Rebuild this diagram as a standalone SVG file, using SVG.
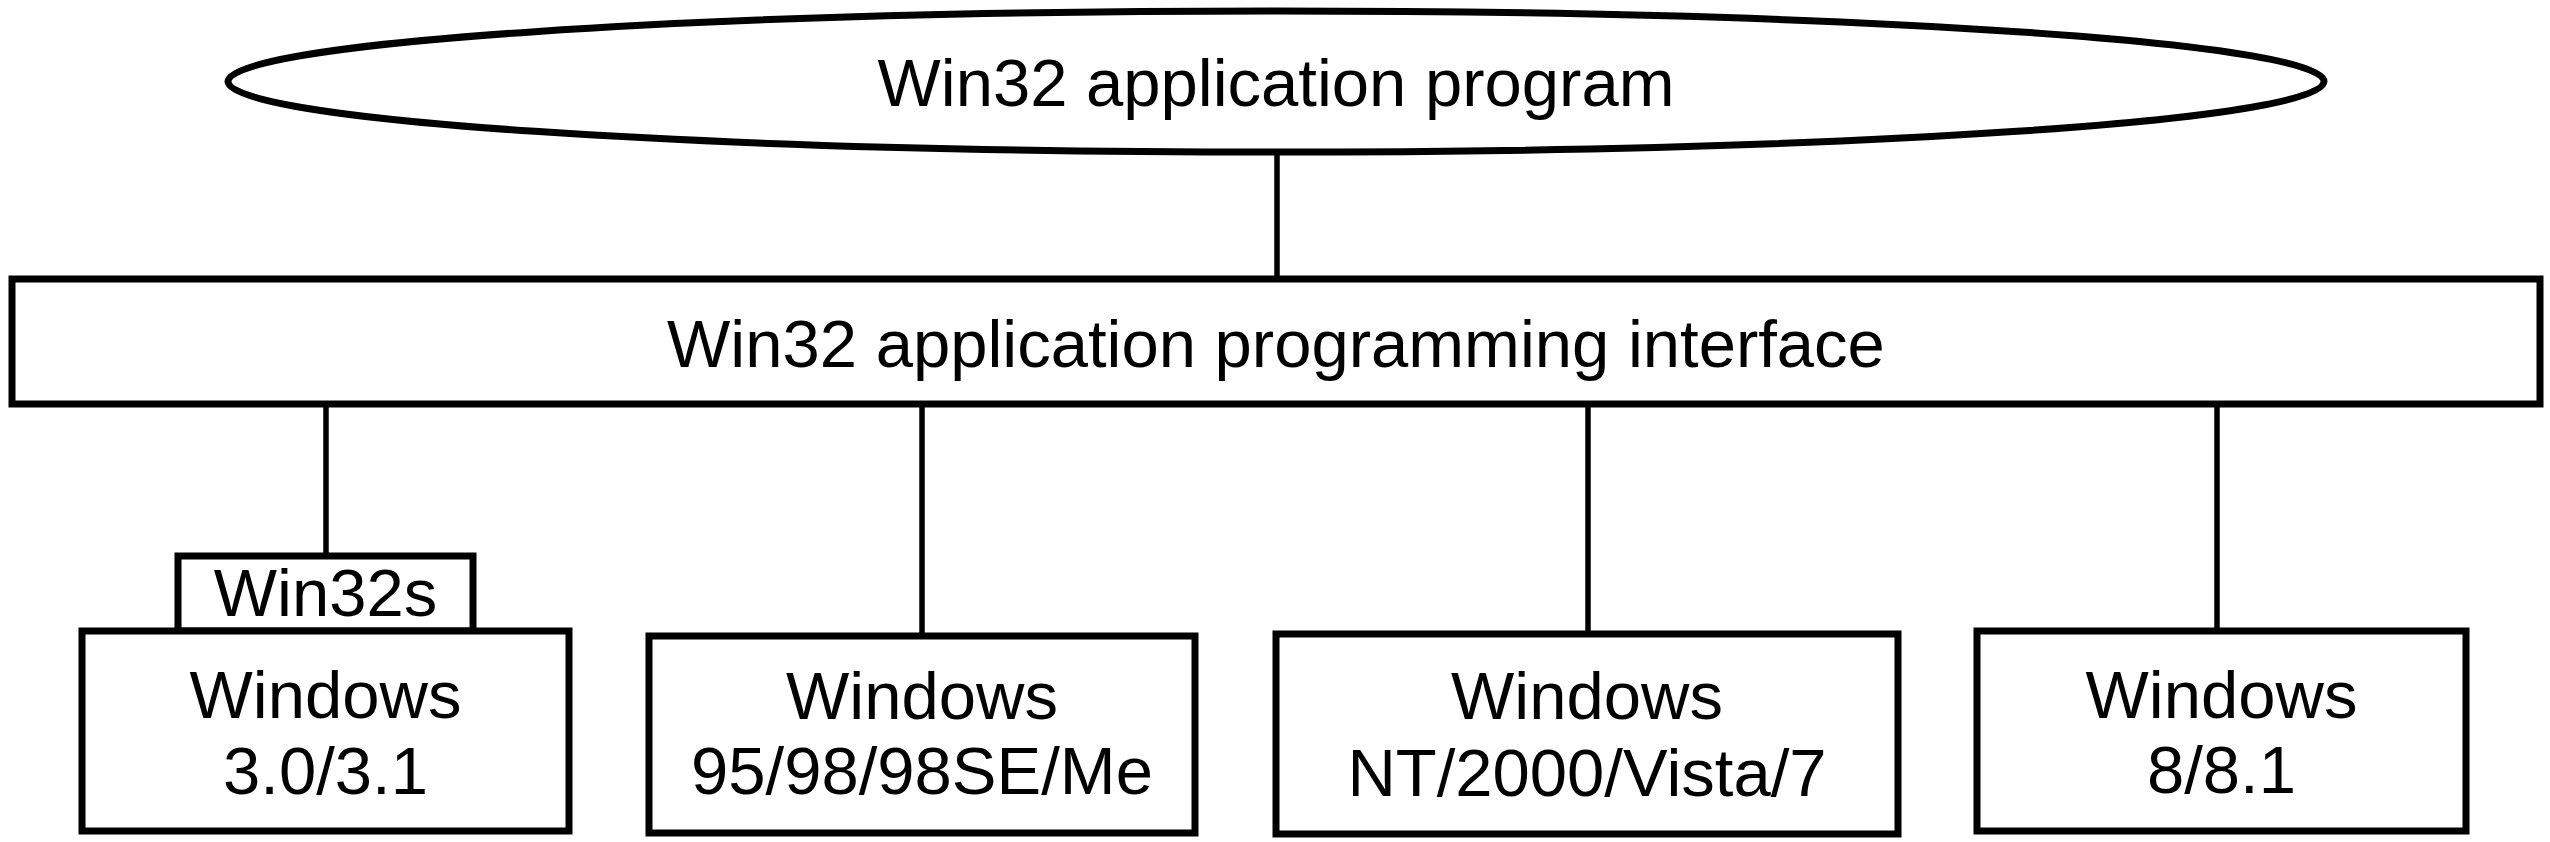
<svg xmlns="http://www.w3.org/2000/svg" width="2550" height="842" viewBox="0 0 2550 842">
<style>
.box{fill:#fff;stroke:#000;stroke-width:7}
.ln{stroke:#000;stroke-width:5.5;fill:none}
text{font-family:"Liberation Sans",Arial,Helvetica,sans-serif;font-size:67px;fill:#000;text-anchor:middle}
</style>
<rect width="2550" height="842" fill="#fff"/>
<g id="connectors">
<line class="ln" x1="1277" y1="152" x2="1277" y2="279"/>
<line class="ln" x1="326" y1="404" x2="326" y2="556"/>
<line class="ln" x1="922" y1="404" x2="922" y2="636"/>
<line class="ln" x1="1588" y1="404" x2="1588" y2="634"/>
<line class="ln" x1="2217" y1="404" x2="2217" y2="631"/>
</g>
<g id="app">
<ellipse class="box" cx="1276" cy="81.5" rx="1048" ry="70.5"/>
<text x="1276" y="106">Win32 application program</text>
</g>
<g id="api">
<rect class="box" x="12" y="279" width="2528" height="125"/>
<text x="1276" y="367">Win32 application programming interface</text>
</g>
<g id="win32s">
<rect class="box" x="178" y="556" width="295" height="75"/>
<text x="325.5" y="616">Win32s</text>
</g>
<g id="win3">
<rect class="box" x="82" y="631" width="487" height="200"/>
<text x="325.5" y="718">Windows</text>
<text x="325.5" y="794">3.0/3.1</text>
</g>
<g id="win95">
<rect class="box" x="649" y="636" width="546" height="197"/>
<text x="922" y="719">Windows</text>
<text x="922" y="794">95/98/98SE/Me</text>
</g>
<g id="winnt">
<rect class="box" x="1276" y="634" width="622" height="200"/>
<text x="1587" y="719">Windows</text>
<text x="1587" y="796">NT/2000/Vista/7</text>
</g>
<g id="win8">
<rect class="box" x="1977" y="631" width="489" height="200"/>
<text x="2221.5" y="718">Windows</text>
<text x="2221.5" y="793">8/8.1</text>
</g>
</svg>
